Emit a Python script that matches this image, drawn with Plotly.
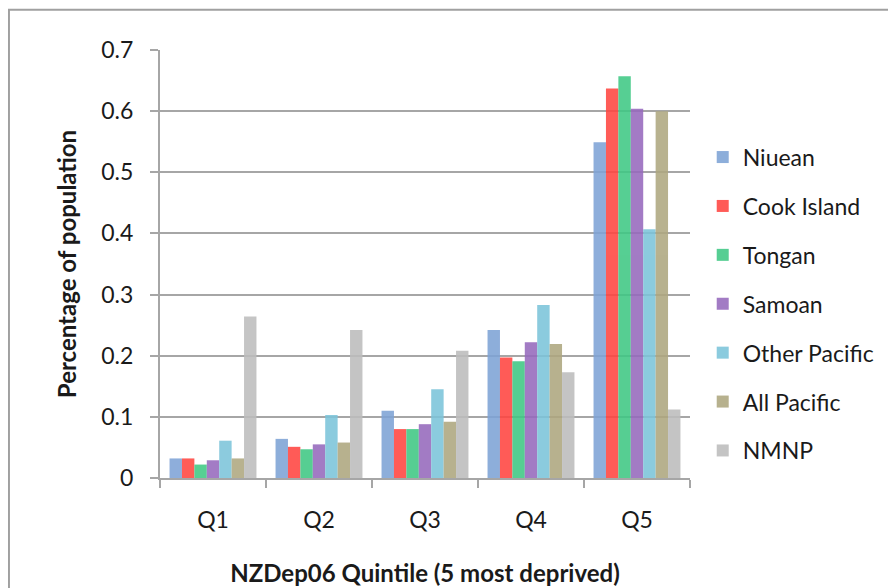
import plotly.graph_objects as go

quintiles = ["Q1", "Q2", "Q3", "Q4", "Q5"]

niuean = [0.032, 0.064, 0.110, 0.242, 0.549]
cook_island = [0.032, 0.051, 0.080, 0.197, 0.637]
tongan = [0.022, 0.047, 0.080, 0.191, 0.657]
samoan = [0.029, 0.055, 0.088, 0.222, 0.604]
other_pacific = [0.061, 0.103, 0.145, 0.283, 0.407]
all_pacific = [0.032, 0.058, 0.092, 0.219, 0.600]
nmnp = [0.264, 0.242, 0.208, 0.173, 0.112]

series = [
    ("Niuean", niuean, "#7ea3d6"),
    ("Cook Island", cook_island, "#ff4540"),
    ("Tongan", tongan, "#3fc884"),
    ("Samoan", samoan, "#9669bd"),
    ("Other Pacific", other_pacific, "#7cc4da"),
    ("All Pacific", all_pacific, "#aea77f"),
    ("NMNP", nmnp, "#bdbdbd"),
]

fig = go.Figure()
for i, (name, vals, col) in enumerate(series):
    fig.add_trace(go.Bar(x=quintiles, y=vals, name=name,
                         marker=dict(color=col, line=dict(width=0)),
                         opacity=0.88, legendgroup=str(i)))

font = "Lato, 'Open Sans', sans-serif"
grey = "#a6a6a6"

# page has an 8px body margin, so the figure is laid out 8px up/left
fig.update_layout(
    width=896, height=588,
    margin=dict(l=152, r=214, t=42, b=118),
    paper_bgcolor="white", plot_bgcolor="white",
    font=dict(family=font, size=23, color="#1a1a1a"),
    barmode="group", bargap=0.18, bargroupgap=0,
    legend=dict(x=1.024, y=0.80, xanchor="left", yanchor="top",
                tracegroupgap=16, font=dict(size=23),
                itemwidth=30),
    xaxis=dict(showline=True, linecolor=grey, linewidth=2,
               ticks="outside", tickson="boundaries", ticklen=8,
               tickcolor=grey, tickwidth=2, showgrid=False,
               ticklabelstandoff=20,
               title=dict(text="<b>NZDep06 Quintile (5 most deprived)</b>",
                          font=dict(size=24), standoff=34)),
    yaxis=dict(range=[0, 0.7], dtick=0.1, tickformat="~g",
               showline=True, linecolor=grey, linewidth=2,
               ticks="outside", ticklen=8, tickcolor=grey, tickwidth=2,
               showgrid=True, gridcolor=grey, gridwidth=2,
               zeroline=False, ticklabelstandoff=12,
               title=dict(text="<b>Percentage of population</b>",
                          font=dict(size=24), standoff=18)),
    shapes=[dict(type="rect", xref="paper", yref="paper",
                 x0=-0.285, x1=1.6, y0=-0.5, y1=1.094,
                 line=dict(color="#a0a0a0", width=2), layer="below")],
)

fig.write_html("out.html")
